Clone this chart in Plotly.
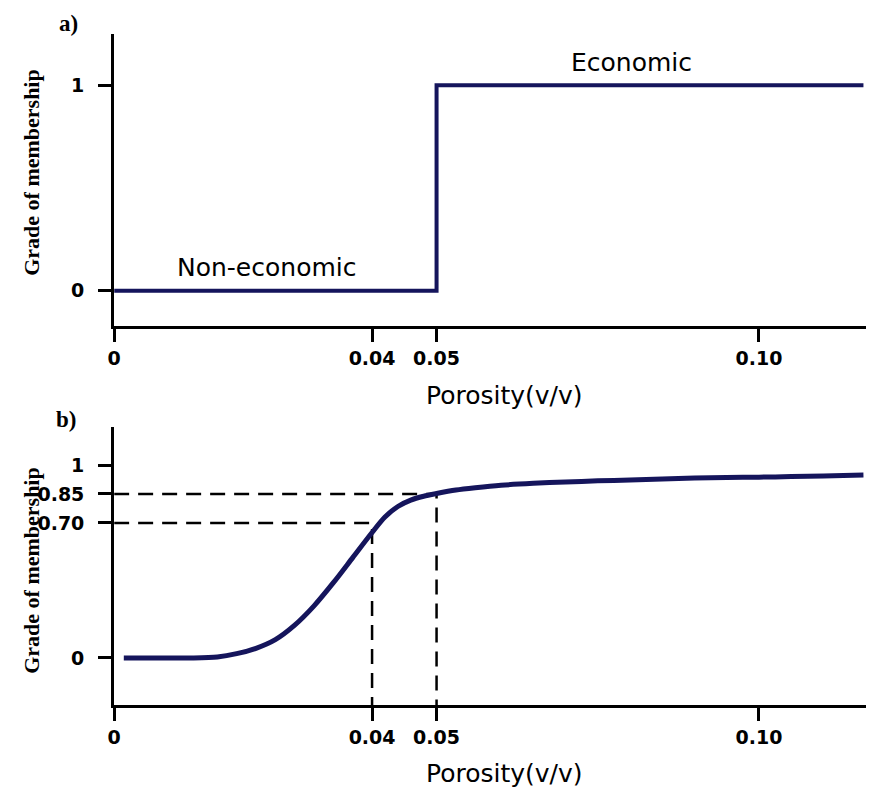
import plotly.graph_objects as go

# Panel a: crisp (step) membership function
step_x = [0.0, 0.05, 0.1162]
step_y = [0.0, 1.0, 1.0]

# Panel b: fuzzy (sigmoid-like) membership function
curve_x = [0.0015, 0.012, 0.016, 0.019, 0.022, 0.025, 0.028, 0.031, 0.034, 0.037,
           0.040, 0.042, 0.044, 0.046, 0.048, 0.050, 0.053, 0.056, 0.060, 0.065,
           0.070, 0.075, 0.080, 0.085, 0.090, 0.095, 0.100, 0.105, 0.110, 0.1162]
curve_y = [0.0, 0.0, 0.005, 0.022, 0.05, 0.095, 0.17, 0.27, 0.39, 0.52,
           0.65, 0.73, 0.785, 0.818, 0.838, 0.852, 0.87, 0.882, 0.895, 0.905,
           0.912, 0.918, 0.922, 0.928, 0.932, 0.935, 0.937, 0.94, 0.943, 0.948]

# Reference porosities and their membership grades (dashed guides)
guide_porosity = [0.04, 0.05]
guide_grade = [0.70, 0.85]

x_ticks = [0, 0.04, 0.05, 0.10]
x_tick_text = ["0", "0.04", "0.05", "0.10"]
ya_ticks = [0, 1]
ya_tick_text = ["0", "1"]
yb_ticks = [0, 0.70, 0.85, 1]
yb_tick_text = ["0", "0.70", "0.85", "1"]

X_RANGE = [0, 0.1166]
YA_RANGE = [-0.171, 1.249]
YB_RANGE = [-0.244, 1.197]

LINE_COLOR = "#15155c"
W, H = 870, 793

fig = go.Figure()

fig.add_trace(go.Scatter(x=step_x, y=step_y, mode="lines", line_shape="hv",
                         line=dict(color=LINE_COLOR, width=4),
                         xaxis="x", yaxis="y", showlegend=False, hoverinfo="skip"))

# dashed guide lines in panel b
for px, g in zip(guide_porosity, guide_grade):
    fig.add_trace(go.Scatter(x=[0, px, px], y=[g, g, YB_RANGE[0]], mode="lines",
                             line=dict(color="black", width=2.5, dash="15px,9px"),
                             xaxis="x2", yaxis="y2", showlegend=False, hoverinfo="skip"))

fig.add_trace(go.Scatter(x=curve_x, y=curve_y, mode="lines", line_shape="spline",
                         line=dict(color=LINE_COLOR, width=5, smoothing=0.8),
                         xaxis="x2", yaxis="y2", showlegend=False, hoverinfo="skip"))

tick_font = dict(family="DejaVu Sans", size=19, color="black", weight="bold")
axis_common = dict(showgrid=False, zeroline=False, showline=True, linecolor="black",
                   linewidth=3, ticks="outside", ticklen=13, tickwidth=2.5,
                   tickcolor="black", tickfont=tick_font, fixedrange=True)

x_dom = [108 / W, 866 / W]
ya_dom = [1 - 326 / H, 1 - 34 / H]
yb_dom = [1 - 705 / H, 1 - 427 / H]

fig.update_layout(
    width=W, height=H,
    margin=dict(l=0, r=0, t=0, b=0),
    paper_bgcolor="white", plot_bgcolor="white",
    xaxis=dict(domain=x_dom, range=X_RANGE, anchor="y", tickvals=x_ticks,
               ticktext=x_tick_text, **axis_common),
    yaxis=dict(domain=ya_dom, range=YA_RANGE, anchor="x", tickvals=ya_ticks,
               ticktext=ya_tick_text, ticklabelstandoff=10, **axis_common),
    xaxis2=dict(domain=x_dom, range=X_RANGE, anchor="y2", tickvals=x_ticks,
                ticktext=x_tick_text, **axis_common),
    yaxis2=dict(domain=yb_dom, range=YB_RANGE, anchor="x2", tickvals=yb_ticks,
                ticktext=yb_tick_text, ticklabelstandoff=10, **axis_common),
)

label_font = dict(family="DejaVu Sans", size=25, color="black")
title_font = dict(family="Liberation Serif", size=22, color="black", weight="bold")
panel_font = dict(family="Liberation Serif", size=23, color="black", weight="bold")


def paper_text(text, px, py, font, angle=0):
    return dict(text=text, x=px / W, y=1 - py / H, xref="paper", yref="paper",
                xanchor="center", yanchor="middle", showarrow=False,
                textangle=angle, font=font)


annotations = [
    dict(text="Non-economic", x=0.0237, y=0.112, xref="x", yref="y",
         xanchor="center", yanchor="middle", showarrow=False, font=label_font),
    dict(text="Economic", x=0.0802, y=1.112, xref="x", yref="y",
         xanchor="center", yanchor="middle", showarrow=False, font=label_font),
    paper_text("Porosity(v/v)", 502, 395, label_font),
    paper_text("Porosity(v/v)", 502, 773, label_font),
    paper_text("Grade of membership", 24, 172, title_font, -90),
    paper_text("Grade of membership", 24, 570, title_font, -90),
    paper_text("a)", 62, 24, panel_font),
    paper_text("b)", 59, 419, panel_font),
]
fig.update_layout(annotations=annotations)

fig.write_html("out.html")
